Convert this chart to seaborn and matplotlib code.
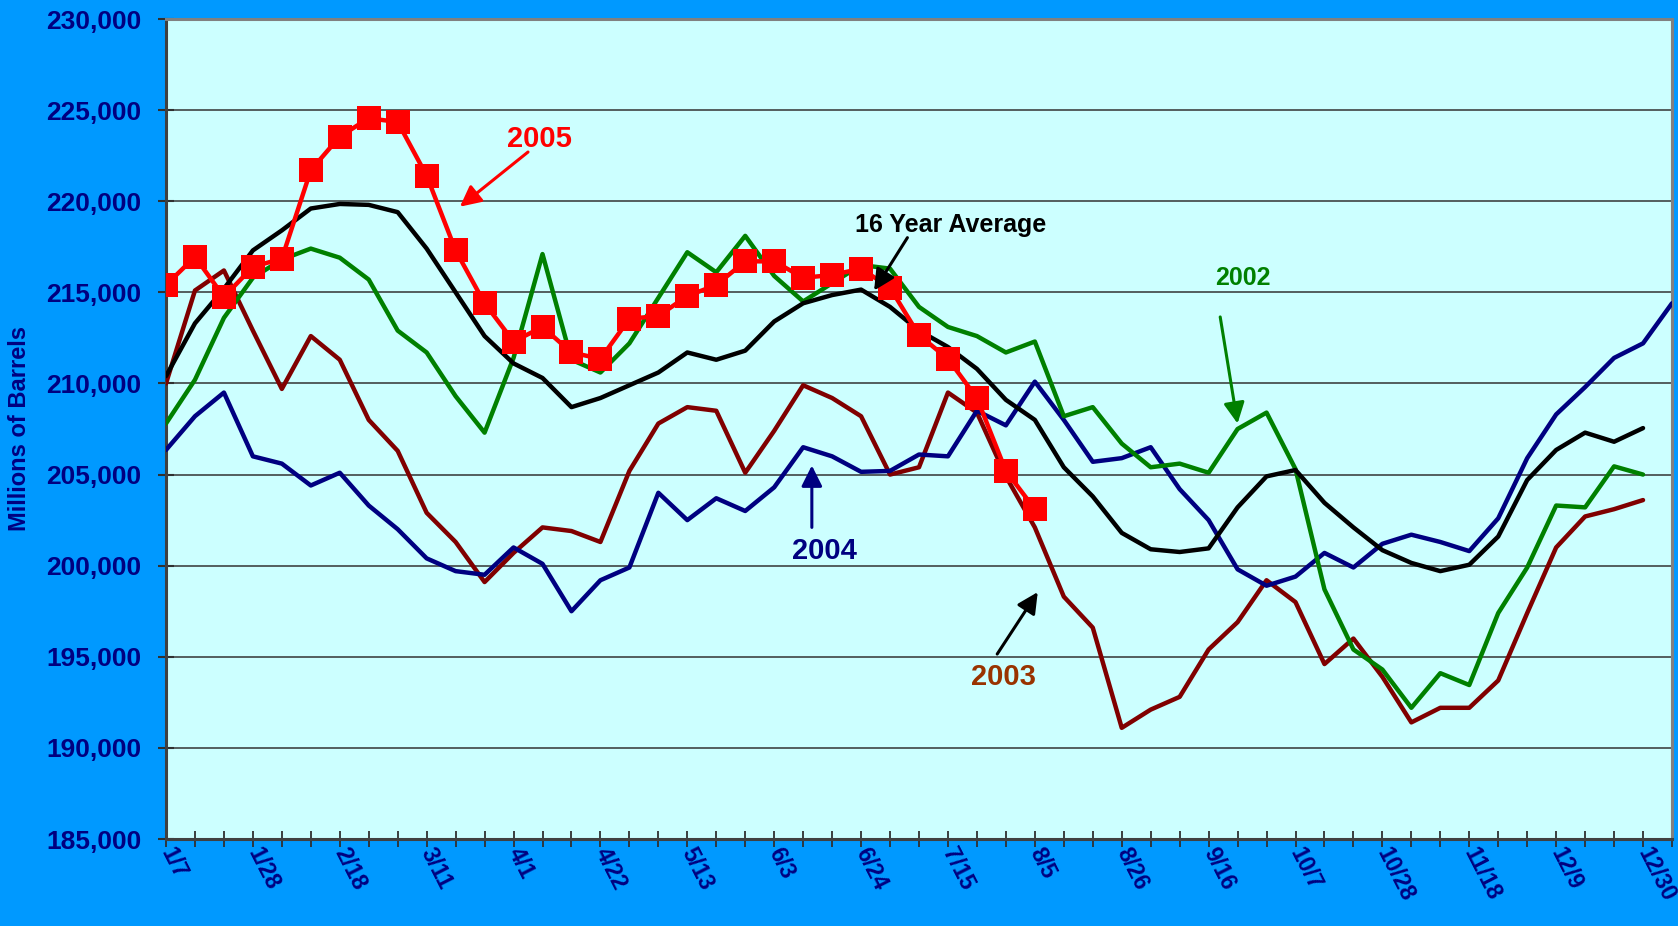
import numpy as np
import matplotlib
matplotlib.use('Agg')
import matplotlib.pyplot as plt
import seaborn as sns

# weekly stocks, millions of barrels (week 0 = 1/7)
tick_labels = ['1/7', '1/28', '2/18', '3/11', '4/1', '4/22', '5/13', '6/3', '6/24',
               '7/15', '8/5', '8/26', '9/16', '10/7', '10/28', '11/18', '12/9', '12/30']

avg_16yr = [210400, 213300, 215200, 217300, 218400, 219600, 219850, 219800, 219400, 217400,
            215000, 212600, 211100, 210300, 208700, 209200, 209900, 210600, 211700, 211300,
            211800, 213400, 214400, 214850, 215150, 214200, 212900, 212000, 210800, 209100,
            208000, 205400, 203800, 201800, 200900, 200750, 200950, 203200, 204900, 205250,
            203450, 202100, 200850, 200150, 199700, 200050, 201600, 204700, 206350, 207300,
            206800, 207550]

y2002 = [207800, 210200, 213600, 215800, 216800, 217400, 216900, 215700, 212900, 211700,
         209300, 207300, 211400, 217100, 211300, 210600, 212200, 214700, 217200, 216100,
         218100, 215900, 214500, 215500, 216500, 216300, 214200, 213100, 212600, 211700,
         212300, 208200, 208700, 206700, 205400, 205600, 205100, 207500, 208400, 205300,
         198700, 195400, 194300, 192200, 194100, 193450, 197400, 199900, 203300, 203200,
         205450, 205000]

y2003 = [210000, 215100, 216200, 212900, 209700, 212600, 211300, 208000, 206300, 202900,
         201300, 199100, 200700, 202100, 201900, 201300, 205200, 207800, 208700, 208500,
         205100, 207400, 209900, 209200, 208200, 205000, 205400, 209500, 208400, 204900,
         202100, 198300, 196600, 191100, 192100, 192800, 195400, 196900, 199200, 198000,
         194600, 196000, 193900, 191400, 192200, 192200, 193700, 197400, 201000, 202700,
         203100, 203600]

y2004 = [206350, 208200, 209500, 206000, 205600, 204400, 205100, 203300, 202000, 200400,
         199700, 199500, 201000, 200100, 197500, 199200, 199900, 204000, 202500, 203700,
         203000, 204300, 206500, 206000, 205150, 205200, 206100, 206000, 208500, 207700,
         210100, 208000, 205700, 205900, 206500, 204200, 202500, 199800, 198900, 199400,
         200700, 199900, 201200, 201700, 201300, 200800, 202600, 205900, 208300, 209800,
         211400, 212200, 214400]

y2005 = [215400, 216950, 214750, 216400, 216850, 221700, 223550, 224550, 224350, 221400,
         217300, 214400, 212300, 213100, 211700, 211350, 213550, 213700, 214800, 215400,
         216700, 216700, 215800, 215950, 216300, 215250, 212650, 211350, 209200, 205200,
         203100]

NAVY = '#000080'
plt.rcParams['font.family'] = ['Liberation Sans', 'DejaVu Sans']
plt.rcParams['font.weight'] = 'bold'

fig = plt.figure(figsize=(16.78, 9.26), dpi=100, facecolor='#0099FF')
ax = fig.add_axes([166 / 1678, 87 / 926, 1506 / 1678, 820 / 926])
ax.set_facecolor('#CCFFFF')

line_kw = dict(lw=3.2, solid_joinstyle='round', solid_capstyle='round', legend=False)
sns.lineplot(x=np.arange(len(y2003)), y=y2003, ax=ax, color='#800000', zorder=3, **line_kw)
sns.lineplot(x=np.arange(len(y2004)), y=y2004, ax=ax, color=NAVY, zorder=3, **line_kw)
sns.lineplot(x=np.arange(len(y2002)), y=y2002, ax=ax, color='#008000', zorder=4, **line_kw)
sns.lineplot(x=np.arange(len(avg_16yr)), y=avg_16yr, ax=ax, color='black', zorder=5, **line_kw)
sns.lineplot(x=np.arange(len(y2005)), y=y2005, ax=ax, color='#FF0000', zorder=6,
             marker='s', markersize=17, markeredgewidth=0, **line_kw)

ax.set_xlim(0, 52)
ax.set_ylim(185000, 230000)
yt = list(range(185000, 230001, 5000))
ax.set_yticks(yt)
ax.set_yticklabels([f'{v:,}' for v in yt], color=NAVY, fontsize=19, fontweight='bold')
ax.set_xticks(range(53))
xl = [tick_labels[i // 3] if (i % 3 == 0 and i <= 51) else '' for i in range(53)]
ax.set_xticklabels(xl, color=NAVY, fontsize=16.5, fontweight='bold', rotation=-63,
                   ha='left', va='center', rotation_mode='anchor')
ax.tick_params(axis='y', direction='inout', length=11, width=1.5, color='#303030', pad=12)
ax.tick_params(axis='x', direction='inout', length=11, width=1.3, color='#303030', pad=2)
ax.set_xlabel('')
ax.set_ylabel('')

ax.grid(axis='y', color='#333333', lw=1.1)
ax.grid(axis='x', visible=False)
ax.set_axisbelow(True)
for s in ['left', 'bottom']:
    ax.spines[s].set_color('#404040')
    ax.spines[s].set_linewidth(2.2)
for s in ['top', 'right']:
    ax.spines[s].set_color('#808080')
    ax.spines[s].set_linewidth(2.2)

fig.text(20 / 1678, 0.537, 'Millions of Barrels', rotation=90, ha='center', va='center',
         color=NAVY, fontsize=17, fontweight='bold')

# series callouts
def callout(text, color, txy, tail, head, size, arrow_color=None):
    ax.text(txy[0], txy[1], text, color=color, fontsize=size, fontweight='bold',
            ha='center', va='center', zorder=8)
    ax.annotate('', xy=head, xytext=tail, zorder=8,
                arrowprops=dict(arrowstyle='-|>,head_length=0.7,head_width=0.35',
                                color=arrow_color or color, lw=2.2, mutation_scale=18,
                                shrinkA=0, shrinkB=0))

callout('2005', '#FF0000', (12.9, 223400), (12.5, 222700), (10.15, 219700), 21)
callout('16 Year Average', 'black', (27.1, 218700), (25.6, 218000), (24.45, 215100), 18)
callout('2002', '#008000', (37.2, 215800), (36.4, 213650), (37.0, 207800), 18)
callout('2004', NAVY, (22.75, 200800), (22.3, 202100), (22.3, 205500), 21)
callout('2003', '#993300', (28.9, 193900), (28.7, 195150), (30.1, 198550), 21, 'black')

fig.savefig('out.png', dpi=100, facecolor=fig.get_facecolor())
